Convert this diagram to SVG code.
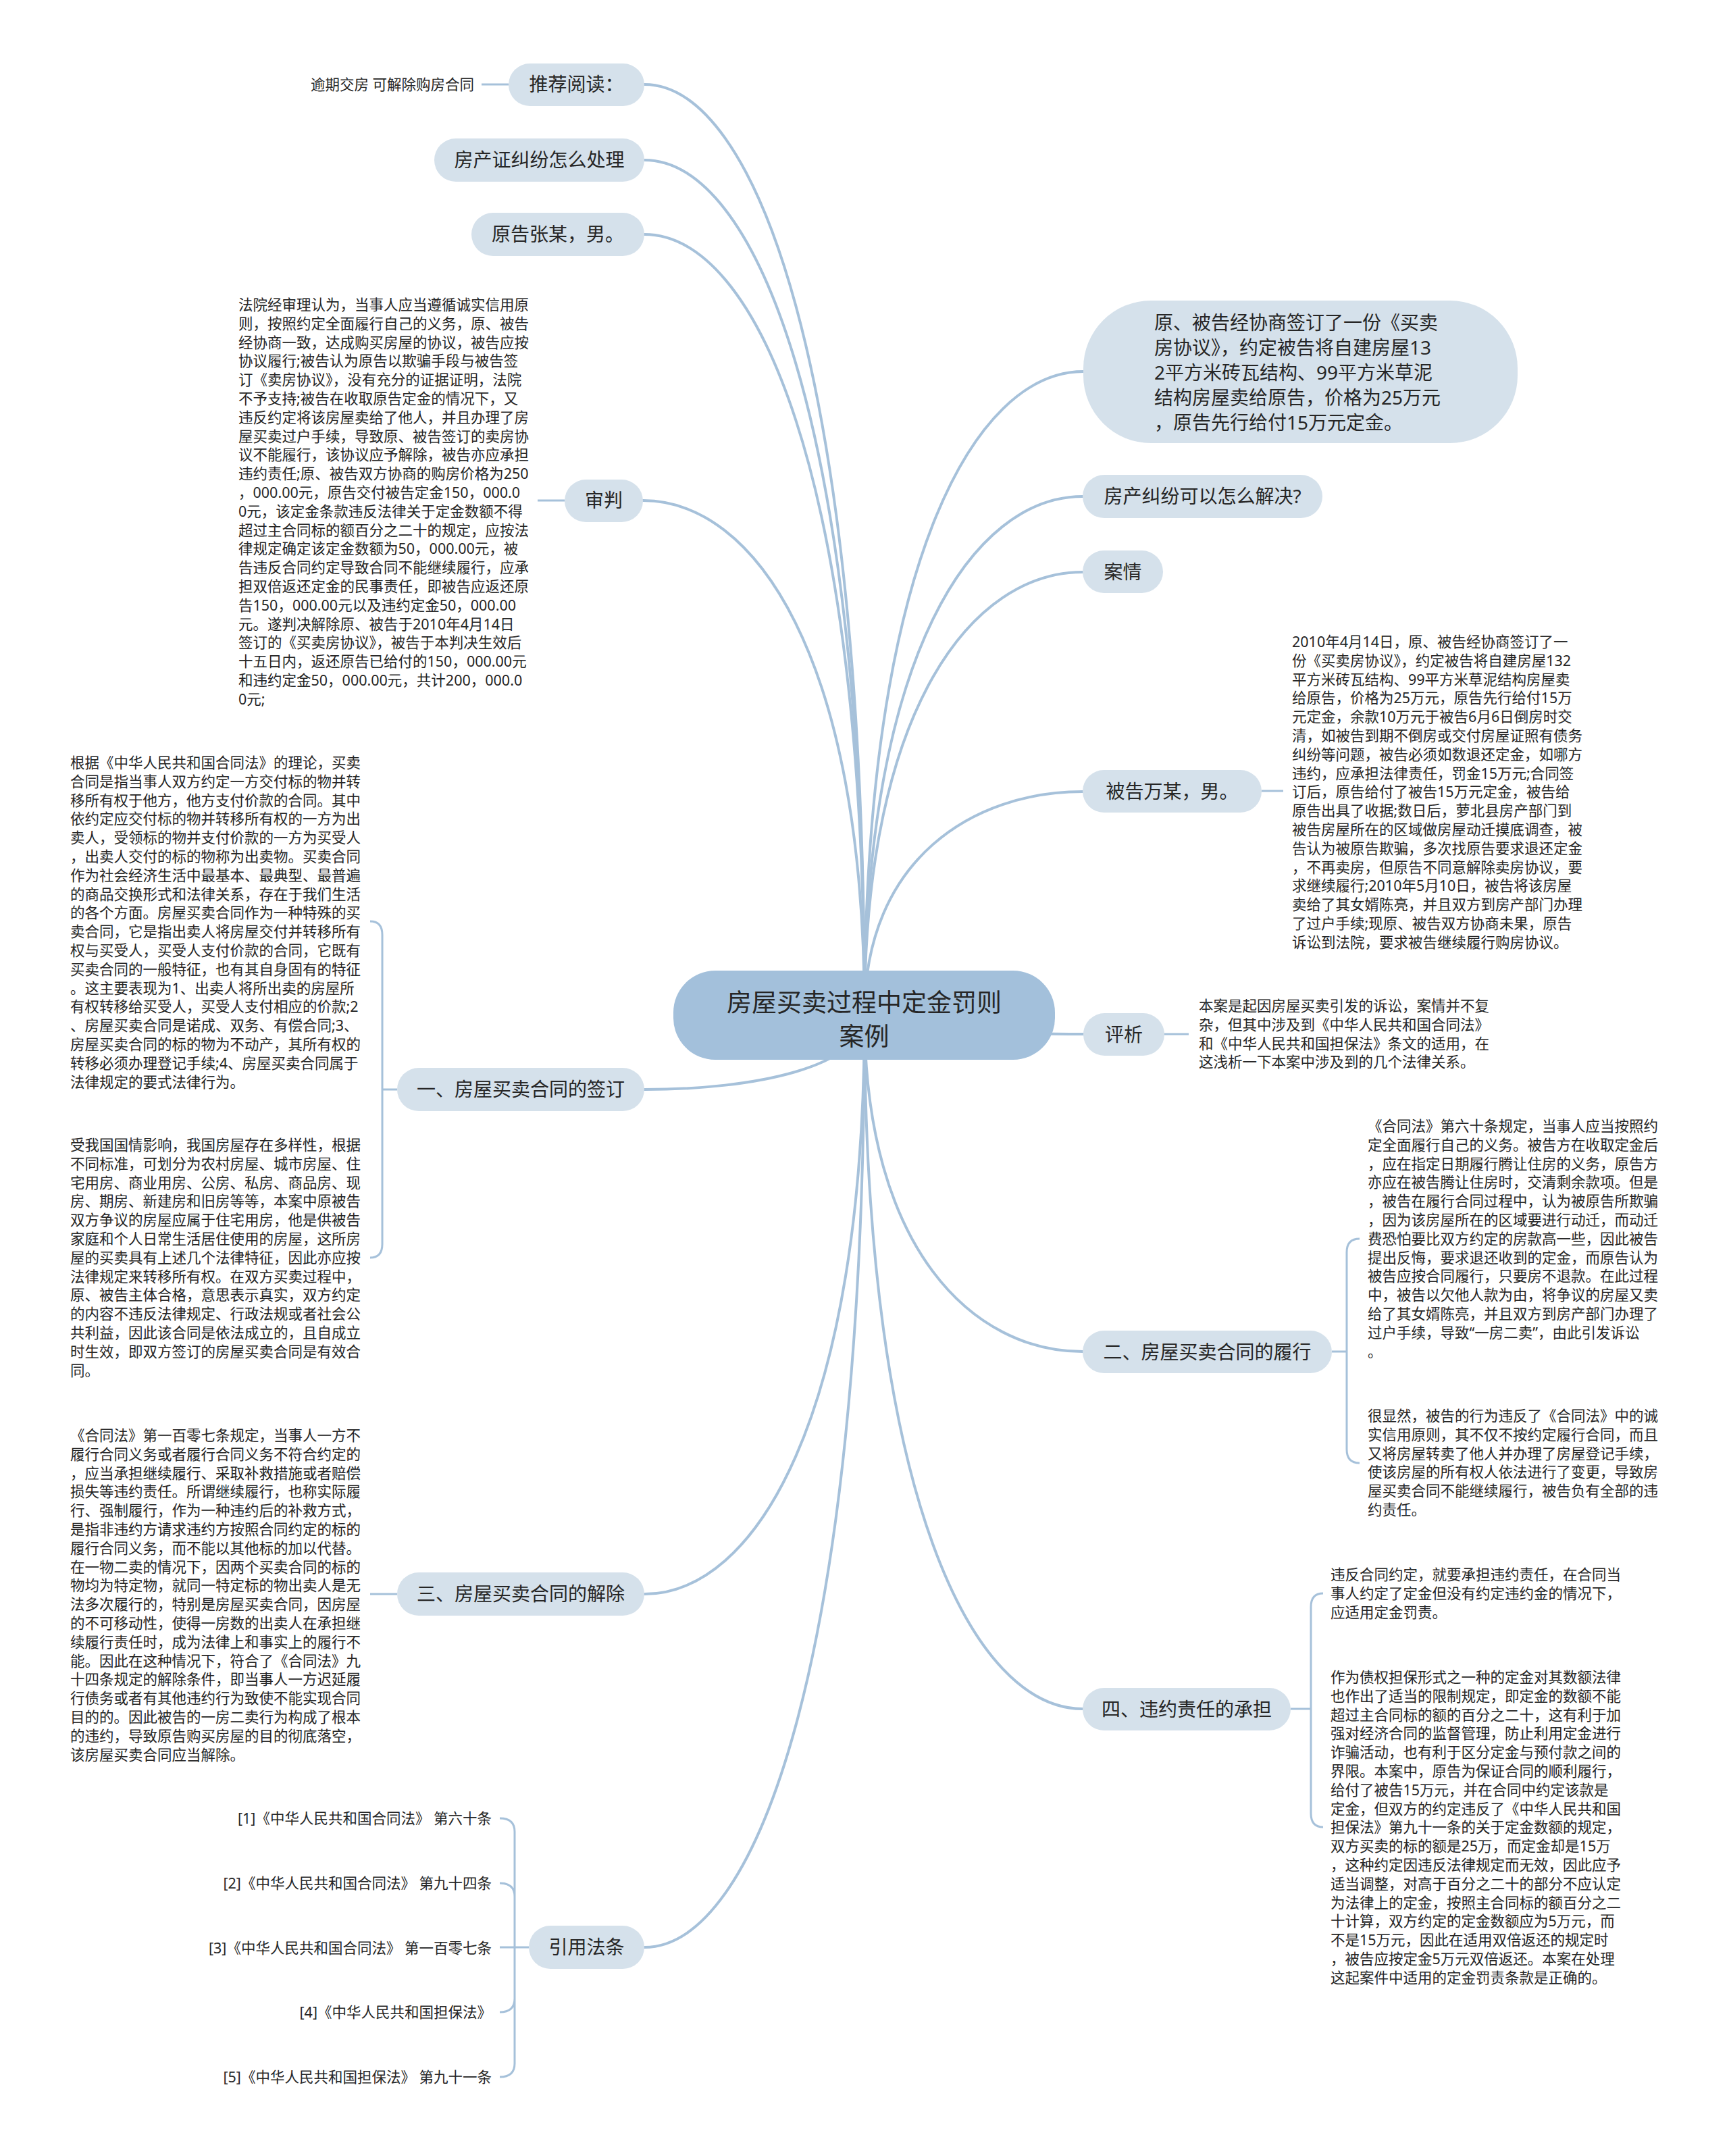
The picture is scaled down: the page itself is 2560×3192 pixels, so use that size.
<svg xmlns="http://www.w3.org/2000/svg" width="2560" height="3192" viewBox="0 0 2560 3192">
<style>
text{font-family:"Noto Sans","Noto Sans CJK SC",sans-serif;fill:#262626}
.n1{fill:#d5e1eb}
.ctr{fill:#a3c0db}
.t1{font-size:28px;text-anchor:middle}
.tb{font-size:28px}
.tc{font-size:37px;text-anchor:middle}
.leaf{font-size:21.5px}
.end{text-anchor:end}
.conn{fill:none;stroke:#a6c1da;stroke-width:4;stroke-linecap:round}
.br{fill:none;stroke:#a6c1da;stroke-width:3}
</style>
<rect width="2560" height="3192" fill="#ffffff"/>
<g id="connectors">
<path class="conn" d="M1280,1502 C1280,538 1117,125 954,125"/>
<path class="conn" d="M1280,1502 C1280,617 1117,237 954,237"/>
<path class="conn" d="M1280,1502 C1280,694 1117,347 954,347"/>
<path class="conn" d="M1280,1502 C1280,969 1116,741 952,741"/>
<path class="conn" d="M1280,1502 C1280,836 1442,550 1604,550"/>
<path class="conn" d="M1280,1502 C1280,965 1442,735 1603,735"/>
<path class="conn" d="M1280,1502 C1280,1044 1442,847 1603,847"/>
<path class="conn" d="M1280,1502 C1280,1271 1442,1172 1603,1172"/>
<path class="conn" d="M1280,1502 C1280,1522 1442,1531 1604,1531"/>
<path class="conn" d="M1280,1502 C1280,1580 1117,1613 954,1613"/>
<path class="conn" d="M1280,1502 C1280,2103 1117,2360 954,2360"/>
<path class="conn" d="M1280,1502 C1280,2469 1117,2883 954,2883"/>
<path class="conn" d="M1280,1502 C1280,1851 1442,2001 1603,2001"/>
<path class="conn" d="M1280,1502 C1280,2222 1442,2530 1603,2530"/>
<path class="br" d="M713,125 H753"/>
<path class="br" d="M796,741 H836"/>
<path class="br" d="M588,1613 H566 M566,1613 V1384 Q566,1364 548,1364 M566,1613 V1842 Q566,1862 548,1862"/>
<path class="br" d="M548,2360 H588"/>
<path class="br" d="M783,2883 H740 M762,2883 V2712 Q762,2692 740,2692 M762,2883 V2808 Q762,2788 740,2788 M762,2883 V2959 Q762,2979 740,2979 M762,2883 V3055 Q762,3075 740,3075"/>
<path class="br" d="M1868,1171 H1900"/>
<path class="br" d="M1724,1531 H1760"/>
<path class="br" d="M1972,2001 H1994 M1994,2001 V1854 Q1994,1834 2013,1834 M1994,2001 V2146 Q1994,2166 2013,2166"/>
<path class="br" d="M1911,2530 H1941 M1941,2530 V2379 Q1941,2359 1959,2359 M1941,2530 V2685 Q1941,2705 1959,2705"/>
</g>
<g id="center">
<rect class="ctr" x="997" y="1437" width="565" height="132" rx="62"/>
<text class="tc" x="1279.5" y="1498">房屋买卖过程中定金罚则</text>
<text class="tc" x="1279.5" y="1548">案例</text>
</g>
<g id="node-tuijian">
<rect class="n1" x="753" y="94" width="201" height="63" rx="31.5"/>
<text class="t1" x="853.5" y="135">推荐阅读：</text>
</g>
<g id="leaf-tuijian">
<text class="leaf end" x="702" y="133">逾期交房 可解除购房合同</text>
</g>
<g id="node-fcz">
<rect class="n1" x="643" y="205" width="311" height="64" rx="32"/>
<text class="t1" x="798.5" y="247">房产证纠纷怎么处理</text>
</g>
<g id="node-ygz">
<rect class="n1" x="698" y="315" width="256" height="64" rx="32"/>
<text class="t1" x="826" y="357">原告张某，男。</text>
</g>
<g id="node-shenpan">
<rect class="n1" x="836" y="710" width="116" height="63" rx="31.5"/>
<text class="t1" x="894" y="751">审判</text>
</g>
<g id="leaf-shenpan">
<text class="leaf" x="353" y="459"><tspan x="353" dy="0">法院经审理认为，当事人应当遵循诚实信用原</tspan><tspan x="353" dy="27.8">则，按照约定全面履行自己的义务，原、被告</tspan><tspan x="353" dy="27.8">经协商一致，达成购买房屋的协议，被告应按</tspan><tspan x="353" dy="27.8">协议履行;被告认为原告以欺骗手段与被告签</tspan><tspan x="353" dy="27.8">订《卖房协议》，没有充分的证据证明，法院</tspan><tspan x="353" dy="27.8">不予支持;被告在收取原告定金的情况下，又</tspan><tspan x="353" dy="27.8">违反约定将该房屋卖给了他人，并且办理了房</tspan><tspan x="353" dy="27.8">屋买卖过户手续，导致原、被告签订的卖房协</tspan><tspan x="353" dy="27.8">议不能履行，该协议应予解除，被告亦应承担</tspan><tspan x="353" dy="27.8">违约责任;原、被告双方协商的购房价格为250</tspan><tspan x="353" dy="27.8">，000.00元，原告交付被告定金150，000.0</tspan><tspan x="353" dy="27.8">0元，该定金条款违反法律关于定金数额不得</tspan><tspan x="353" dy="27.8">超过主合同标的额百分之二十的规定，应按法</tspan><tspan x="353" dy="27.8">律规定确定该定金数额为50，000.00元，被</tspan><tspan x="353" dy="27.8">告违反合同约定导致合同不能继续履行，应承</tspan><tspan x="353" dy="27.8">担双倍返还定金的民事责任，即被告应返还原</tspan><tspan x="353" dy="27.8">告150，000.00元以及违约定金50，000.00</tspan><tspan x="353" dy="27.8">元。遂判决解除原、被告于2010年4月14日</tspan><tspan x="353" dy="27.8">签订的《买卖房协议》，被告于本判决生效后</tspan><tspan x="353" dy="27.8">十五日内，返还原告已给付的150，000.00元</tspan><tspan x="353" dy="27.8">和违约定金50，000.00元，共计200，000.0</tspan><tspan x="353" dy="27.8">0元;</tspan></text>
</g>
<g id="node-1">
<rect class="n1" x="588" y="1581" width="366" height="64" rx="32"/>
<text class="t1" x="771" y="1623">一、房屋买卖合同的签订</text>
</g>
<g id="leaf-1a">
<text class="leaf" x="104" y="1137"><tspan x="104" dy="0">根据《中华人民共和国合同法》的理论，买卖</tspan><tspan x="104" dy="27.8">合同是指当事人双方约定一方交付标的物并转</tspan><tspan x="104" dy="27.8">移所有权于他方，他方支付价款的合同。其中</tspan><tspan x="104" dy="27.8">依约定应交付标的物并转移所有权的一方为出</tspan><tspan x="104" dy="27.8">卖人，受领标的物并支付价款的一方为买受人</tspan><tspan x="104" dy="27.8">，出卖人交付的标的物称为出卖物。买卖合同</tspan><tspan x="104" dy="27.8">作为社会经济生活中最基本、最典型、最普遍</tspan><tspan x="104" dy="27.8">的商品交换形式和法律关系，存在于我们生活</tspan><tspan x="104" dy="27.8">的各个方面。房屋买卖合同作为一种特殊的买</tspan><tspan x="104" dy="27.8">卖合同，它是指出卖人将房屋交付并转移所有</tspan><tspan x="104" dy="27.8">权与买受人，买受人支付价款的合同，它既有</tspan><tspan x="104" dy="27.8">买卖合同的一般特征，也有其自身固有的特征</tspan><tspan x="104" dy="27.8">。这主要表现为1、出卖人将所出卖的房屋所</tspan><tspan x="104" dy="27.8">有权转移给买受人，买受人支付相应的价款;2</tspan><tspan x="104" dy="27.8">、房屋买卖合同是诺成、双务、有偿合同;3、</tspan><tspan x="104" dy="27.8">房屋买卖合同的标的物为不动产，其所有权的</tspan><tspan x="104" dy="27.8">转移必须办理登记手续;4、房屋买卖合同属于</tspan><tspan x="104" dy="27.8">法律规定的要式法律行为。</tspan></text>
</g>
<g id="leaf-1b">
<text class="leaf" x="104" y="1703"><tspan x="104" dy="0">受我国国情影响，我国房屋存在多样性，根据</tspan><tspan x="104" dy="27.8">不同标准，可划分为农村房屋、城市房屋、住</tspan><tspan x="104" dy="27.8">宅用房、商业用房、公房、私房、商品房、现</tspan><tspan x="104" dy="27.8">房、期房、新建房和旧房等等，本案中原被告</tspan><tspan x="104" dy="27.8">双方争议的房屋应属于住宅用房，他是供被告</tspan><tspan x="104" dy="27.8">家庭和个人日常生活居住使用的房屋，这所房</tspan><tspan x="104" dy="27.8">屋的买卖具有上述几个法律特征，因此亦应按</tspan><tspan x="104" dy="27.8">法律规定来转移所有权。在双方买卖过程中，</tspan><tspan x="104" dy="27.8">原、被告主体合格，意思表示真实，双方约定</tspan><tspan x="104" dy="27.8">的内容不违反法律规定、行政法规或者社会公</tspan><tspan x="104" dy="27.8">共利益，因此该合同是依法成立的，且自成立</tspan><tspan x="104" dy="27.8">时生效，即双方签订的房屋买卖合同是有效合</tspan><tspan x="104" dy="27.8">同。</tspan></text>
</g>
<g id="node-3">
<rect class="n1" x="588" y="2328" width="366" height="64" rx="32"/>
<text class="t1" x="771" y="2370">三、房屋买卖合同的解除</text>
</g>
<g id="leaf-3">
<text class="leaf" x="104" y="2133"><tspan x="104" dy="0">《合同法》第一百零七条规定，当事人一方不</tspan><tspan x="104" dy="27.8">履行合同义务或者履行合同义务不符合约定的</tspan><tspan x="104" dy="27.8">，应当承担继续履行、采取补救措施或者赔偿</tspan><tspan x="104" dy="27.8">损失等违约责任。所谓继续履行，也称实际履</tspan><tspan x="104" dy="27.8">行、强制履行，作为一种违约后的补救方式，</tspan><tspan x="104" dy="27.8">是指非违约方请求违约方按照合同约定的标的</tspan><tspan x="104" dy="27.8">履行合同义务，而不能以其他标的加以代替。</tspan><tspan x="104" dy="27.8">在一物二卖的情况下，因两个买卖合同的标的</tspan><tspan x="104" dy="27.8">物均为特定物，就同一特定标的物出卖人是无</tspan><tspan x="104" dy="27.8">法多次履行的，特别是房屋买卖合同，因房屋</tspan><tspan x="104" dy="27.8">的不可移动性，使得一房数的出卖人在承担继</tspan><tspan x="104" dy="27.8">续履行责任时，成为法律上和事实上的履行不</tspan><tspan x="104" dy="27.8">能。因此在这种情况下，符合了《合同法》九</tspan><tspan x="104" dy="27.8">十四条规定的解除条件，即当事人一方迟延履</tspan><tspan x="104" dy="27.8">行债务或者有其他违约行为致使不能实现合同</tspan><tspan x="104" dy="27.8">目的的。因此被告的一房二卖行为构成了根本</tspan><tspan x="104" dy="27.8">的违约，导致原告购买房屋的目的彻底落空，</tspan><tspan x="104" dy="27.8">该房屋买卖合同应当解除。</tspan></text>
</g>
<g id="node-yinyong">
<rect class="n1" x="783" y="2851" width="171" height="64" rx="32"/>
<text class="t1" x="868.5" y="2893">引用法条</text>
</g>
<g id="leaf-yinyong">
<text class="leaf end" x="728" y="2700">[1]《中华人民共和国合同法》 第六十条</text>
<text class="leaf end" x="728" y="2796">[2]《中华人民共和国合同法》 第九十四条</text>
<text class="leaf end" x="728" y="2892">[3]《中华人民共和国合同法》 第一百零七条</text>
<text class="leaf end" x="728" y="2987">[4]《中华人民共和国担保法》</text>
<text class="leaf end" x="728" y="3083">[5]《中华人民共和国担保法》 第九十一条</text>
</g>
<g id="node-big">
<rect class="n1" x="1604" y="445" width="643" height="211" rx="100"/>
<text class="tb" x="1709" y="488"><tspan x="1709" dy="0">原、被告经协商签订了一份《买卖</tspan><tspan x="1709" dy="37">房协议》，约定被告将自建房屋13</tspan><tspan x="1709" dy="37">2平方米砖瓦结构、99平方米草泥</tspan><tspan x="1709" dy="37">结构房屋卖给原告，价格为25万元</tspan><tspan x="1709" dy="37">，原告先行给付15万元定金。</tspan></text>
</g>
<g id="node-fcjf">
<rect class="n1" x="1603" y="703" width="355" height="64" rx="32"/>
<text class="t1" x="1780.5" y="745">房产纠纷可以怎么解决?</text>
</g>
<g id="node-anqing">
<rect class="n1" x="1603" y="815" width="119" height="63" rx="31.5"/>
<text class="t1" x="1662.5" y="857">案情</text>
</g>
<g id="node-bgw">
<rect class="n1" x="1603" y="1140" width="265" height="63" rx="31.5"/>
<text class="t1" x="1735.5" y="1182">被告万某，男。</text>
</g>
<g id="leaf-bgw">
<text class="leaf" x="1913" y="958"><tspan x="1913" dy="0">2010年4月14日，原、被告经协商签订了一</tspan><tspan x="1913" dy="27.8">份《买卖房协议》，约定被告将自建房屋132</tspan><tspan x="1913" dy="27.8">平方米砖瓦结构、99平方米草泥结构房屋卖</tspan><tspan x="1913" dy="27.8">给原告，价格为25万元，原告先行给付15万</tspan><tspan x="1913" dy="27.8">元定金，余款10万元于被告6月6日倒房时交</tspan><tspan x="1913" dy="27.8">清，如被告到期不倒房或交付房屋证照有债务</tspan><tspan x="1913" dy="27.8">纠纷等问题，被告必须如数退还定金，如哪方</tspan><tspan x="1913" dy="27.8">违约，应承担法律责任，罚金15万元;合同签</tspan><tspan x="1913" dy="27.8">订后，原告给付了被告15万元定金，被告给</tspan><tspan x="1913" dy="27.8">原告出具了收据;数日后，萝北县房产部门到</tspan><tspan x="1913" dy="27.8">被告房屋所在的区域做房屋动迁摸底调查，被</tspan><tspan x="1913" dy="27.8">告认为被原告欺骗，多次找原告要求退还定金</tspan><tspan x="1913" dy="27.8">，不再卖房，但原告不同意解除卖房协议，要</tspan><tspan x="1913" dy="27.8">求继续履行;2010年5月10日，被告将该房屋</tspan><tspan x="1913" dy="27.8">卖给了其女婿陈亮，并且双方到房产部门办理</tspan><tspan x="1913" dy="27.8">了过户手续;现原、被告双方协商未果，原告</tspan><tspan x="1913" dy="27.8">诉讼到法院，要求被告继续履行购房协议。</tspan></text>
</g>
<g id="node-pingxi">
<rect class="n1" x="1604" y="1500" width="120" height="63" rx="31.5"/>
<text class="t1" x="1664" y="1542">评析</text>
</g>
<g id="leaf-pingxi">
<text class="leaf" x="1775" y="1497"><tspan x="1775" dy="0">本案是起因房屋买卖引发的诉讼，案情并不复</tspan><tspan x="1775" dy="27.8">杂，但其中涉及到《中华人民共和国合同法》</tspan><tspan x="1775" dy="27.8">和《中华人民共和国担保法》条文的适用，在</tspan><tspan x="1775" dy="27.8">这浅析一下本案中涉及到的几个法律关系。</tspan></text>
</g>
<g id="node-2">
<rect class="n1" x="1603" y="1970" width="369" height="63" rx="31.5"/>
<text class="t1" x="1787.5" y="2012">二、房屋买卖合同的履行</text>
</g>
<g id="leaf-2a">
<text class="leaf" x="2025" y="1675"><tspan x="2025" dy="0">《合同法》第六十条规定，当事人应当按照约</tspan><tspan x="2025" dy="27.8">定全面履行自己的义务。被告方在收取定金后</tspan><tspan x="2025" dy="27.8">，应在指定日期履行腾让住房的义务，原告方</tspan><tspan x="2025" dy="27.8">亦应在被告腾让住房时，交清剩余款项。但是</tspan><tspan x="2025" dy="27.8">，被告在履行合同过程中，认为被原告所欺骗</tspan><tspan x="2025" dy="27.8">，因为该房屋所在的区域要进行动迁，而动迁</tspan><tspan x="2025" dy="27.8">费恐怕要比双方约定的房款高一些，因此被告</tspan><tspan x="2025" dy="27.8">提出反悔，要求退还收到的定金，而原告认为</tspan><tspan x="2025" dy="27.8">被告应按合同履行，只要房不退款。在此过程</tspan><tspan x="2025" dy="27.8">中，被告以欠他人款为由，将争议的房屋又卖</tspan><tspan x="2025" dy="27.8">给了其女婿陈亮，并且双方到房产部门办理了</tspan><tspan x="2025" dy="27.8">过户手续，导致“一房二卖”，由此引发诉讼</tspan><tspan x="2025" dy="27.8">。</tspan></text>
</g>
<g id="leaf-2b">
<text class="leaf" x="2025" y="2104"><tspan x="2025" dy="0">很显然，被告的行为违反了《合同法》中的诚</tspan><tspan x="2025" dy="27.8">实信用原则，其不仅不按约定履行合同，而且</tspan><tspan x="2025" dy="27.8">又将房屋转卖了他人并办理了房屋登记手续，</tspan><tspan x="2025" dy="27.8">使该房屋的所有权人依法进行了变更，导致房</tspan><tspan x="2025" dy="27.8">屋买卖合同不能继续履行，被告负有全部的违</tspan><tspan x="2025" dy="27.8">约责任。</tspan></text>
</g>
<g id="node-4">
<rect class="n1" x="1603" y="2499" width="308" height="63" rx="31.5"/>
<text class="t1" x="1757" y="2541">四、违约责任的承担</text>
</g>
<g id="leaf-4a">
<text class="leaf" x="1970" y="2339"><tspan x="1970" dy="0">违反合同约定，就要承担违约责任，在合同当</tspan><tspan x="1970" dy="27.8">事人约定了定金但没有约定违约金的情况下，</tspan><tspan x="1970" dy="27.8">应适用定金罚责。</tspan></text>
</g>
<g id="leaf-4b">
<text class="leaf" x="1970" y="2491"><tspan x="1970" dy="0">作为债权担保形式之一种的定金对其数额法律</tspan><tspan x="1970" dy="27.8">也作出了适当的限制规定，即定金的数额不能</tspan><tspan x="1970" dy="27.8">超过主合同标的额的百分之二十，这有利于加</tspan><tspan x="1970" dy="27.8">强对经济合同的监督管理，防止利用定金进行</tspan><tspan x="1970" dy="27.8">诈骗活动，也有利于区分定金与预付款之间的</tspan><tspan x="1970" dy="27.8">界限。本案中，原告为保证合同的顺利履行，</tspan><tspan x="1970" dy="27.8">给付了被告15万元，并在合同中约定该款是</tspan><tspan x="1970" dy="27.8">定金，但双方的约定违反了《中华人民共和国</tspan><tspan x="1970" dy="27.8">担保法》第九十一条的关于定金数额的规定，</tspan><tspan x="1970" dy="27.8">双方买卖的标的额是25万，而定金却是15万</tspan><tspan x="1970" dy="27.8">，这种约定因违反法律规定而无效，因此应予</tspan><tspan x="1970" dy="27.8">适当调整，对高于百分之二十的部分不应认定</tspan><tspan x="1970" dy="27.8">为法律上的定金，按照主合同标的额百分之二</tspan><tspan x="1970" dy="27.8">十计算，双方约定的定金数额应为5万元，而</tspan><tspan x="1970" dy="27.8">不是15万元，因此在适用双倍返还的规定时</tspan><tspan x="1970" dy="27.8">，被告应按定金5万元双倍返还。本案在处理</tspan><tspan x="1970" dy="27.8">这起案件中适用的定金罚责条款是正确的。</tspan></text>
</g>
</svg>
